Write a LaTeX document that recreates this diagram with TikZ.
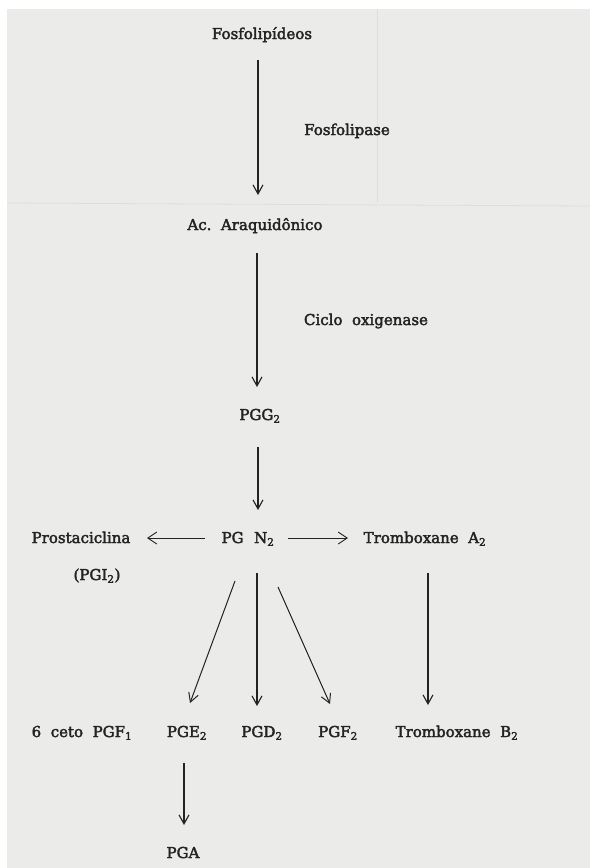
\documentclass[tikz,border=0pt]{standalone}
\usepackage{fontspec}
\setmainfont{DejaVu Serif}
\newfontfamily\diafont[FakeBold=2.5]{DejaVu Serif}
\usetikzlibrary{arrows.meta}
\definecolor{paper}{RGB}{235,235,233}
\definecolor{ink}{RGB}{35,35,35}
\definecolor{crease}{RGB}{222,222,220}
\begin{document}
\begin{tikzpicture}[x=1pt,y=-1pt,
  lbl/.style={anchor=base,inner sep=0pt,text=ink,font=\diafont\fontsize{15}{17}\selectfont},
  arr/.style={draw=ink,line width=1.2pt,-{Straight Barb[length=9pt,width=10pt,line width=1.1pt]}},
  darr/.style={draw=ink,line width=1pt,-{Straight Barb[length=9pt,width=10pt,line width=1pt]}},
  harr/.style={draw=ink,line width=1pt,-{Straight Barb[length=9pt,width=12pt,line width=0.9pt]}}]
\useasboundingbox (0,0) rectangle (590,868);
\fill[white] (0,0) rectangle (590,868);
\fill[paper] (7,9) rectangle (590,868);
\draw[crease,line width=0.8pt] (377,9) -- (377,203);
\draw[crease,line width=0.8pt] (7,203) -- (590,206);

\node[lbl] (fos) at (262,39) {Fosfolipídeos};
\node[lbl] (fosl) at (347,135) {Fosfolipase};
\node[lbl] (ara) at (255,230) {Ac.\ \ Araquidônico};
\node[lbl] (cic) at (366,325) {Ciclo\ \ oxigenase};
\node[lbl] (pgg) at (260,420) {PGG\textsubscript{2}};
\node[lbl] (pgn) at (248,543) {PG\hspace{0.7em}N\textsubscript{2}};
\node[lbl] (pro) at (81,543) {Prostaciclina};
\node[lbl] (pgi) at (97,580) {(PGI\textsubscript{2})};
\node[lbl] (tra) at (425,543) {Tromboxane\ \ A\textsubscript{2}};
\node[lbl] (ceto) at (82,737) {6\ \ ceto\ \ PGF\textsubscript{1}};
\node[lbl] (pge) at (187,737) {PGE\textsubscript{2}};
\node[lbl] (pgd) at (262,737) {PGD\textsubscript{2}};
\node[lbl] (pgf) at (338,737) {PGF\textsubscript{2}};
\node[lbl] (trb) at (457,737) {Tromboxane\ \ B\textsubscript{2}};
\node[lbl] (pga) at (183,858) {PGA};

\draw[arr] ([shift={(-4,21)}]fos.base) -- ([shift={(3,-35)}]ara.base);
\draw[arr] ([shift={(2,23)}]ara.base) -- ([shift={(-3,-33)}]pgg.base);
\draw[arr] ([shift={(-2,27)}]pgg.base) -- ([shift={(10,-33)}]pgn.base);
\draw[harr] ([shift={(-43,-5)}]pgn.base) -- ([shift={(66,-5)}]pro.base);
\draw[harr] ([shift={(40,-5)}]pgn.base) -- ([shift={(-77,-5)}]tra.base);
\draw[darr] ([shift={(-13,38)}]pgn.base) -- ([shift={(3,-34)}]pge.base);
\draw[arr] ([shift={(9,30)}]pgn.base) -- ([shift={(-5,-31)}]pgd.base);
\draw[darr] ([shift={(30,44)}]pgn.base) -- ([shift={(-8,-33)}]pgf.base);
\draw[arr] ([shift={(3,30)}]tra.base) -- ([shift={(-29,-32)}]trb.base);
\draw[arr] ([shift={(-3,26)}]pge.base) -- ([shift={(1,-33)}]pga.base);
\end{tikzpicture}
\end{document}
